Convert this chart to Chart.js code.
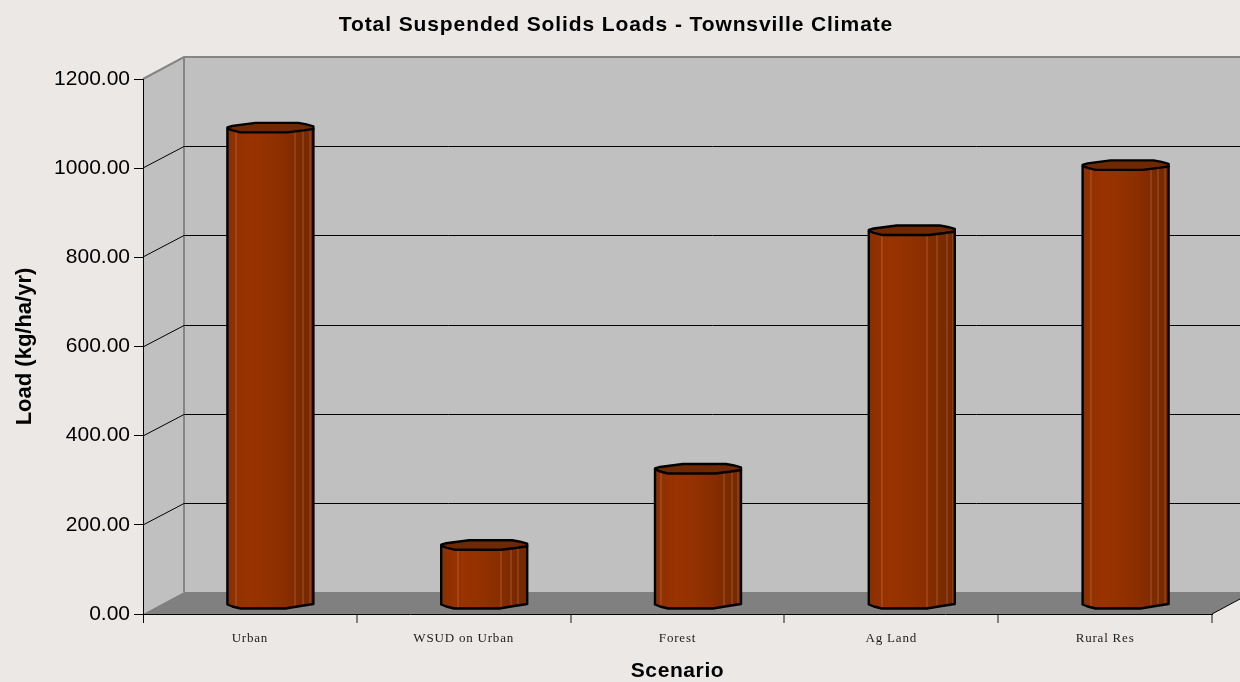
<!DOCTYPE html>
<html>
<head>
<meta charset="utf-8">
<script src="https://cdn.jsdelivr.net/npm/chart.js@4"></script>
<style>
html, body { margin: 0; padding: 0; background: #ece8e5; }
#wrap { width: 1240px; height: 682px; }
</style>
</head>
<body>
<div id="wrap"><canvas id="myChart"></canvas></div>
<script>
const categories = ['Urban', 'WSUD on Urban', 'Forest', 'Ag Land', 'Rural Res'];
const loads = [1069, 133, 304, 839, 985];
const chartTitle = 'Total Suspended Solids Loads - Townsville Climate';
const xTitle = 'Scenario';
const yTitle = 'Load (kg/ha/yr)';

// fake 3D look: back wall sits up and to the right of the axes
const DEPTH_X = 41;
const DEPTH_Y = 22;
const BAR_SHIFT_X = 20.5;
const BAR_SHIFT_Y = -10;

// rim outlines of the bars, relative to bar centre
const topBack = [[-43, 0], [-38, -1.5], [-15, -4.5], [28, -4.5], [36, -3], [43, -1]];
const topFront = [[43, 1.5], [33, 3], [17, 5], [-30, 5], [-38, 3], [-43, 1]];
const bottomFront = [[43, 0.5], [30, 2.5], [15, 5], [-30, 5], [-38, 3], [-43, 1]];
// thin light facet lines, one list per bar
const facetLines = [
    [-35, 24, 32, 39],
    [-27, 16.5, 26.5, 33],
    [-38, 25, 33, 39],
    [-30, 15, 25, 35, 41],
    [-35, 25, 32, 39]
];

function polyLine(ctx, cx, cy, pts, first) {
    pts.forEach((p, i) => {
        if (first && i === 0) ctx.moveTo(cx + p[0], cy + p[1]);
        else ctx.lineTo(cx + p[0], cy + p[1]);
    });
}

function withSpacing(obj, method, spacing) {
    const orig = obj[method];
    if (orig.spaced) return;
    const fn = function () {
        const ctx = this.ctx;
        ctx.letterSpacing = spacing;
        orig.apply(this, arguments);
        ctx.letterSpacing = '0px';
    };
    fn.spaced = true;
    obj[method] = fn;
}

const roomPlugin = {
    id: 'room',
    beforeDraw(chart) {
        const { ctx, scales: { x, y } } = chart;
        withSpacing(x, 'drawLabels', '0.8px');
        withSpacing(x, 'drawTitle', '0.6px');
        withSpacing(chart.titleBlock, 'draw', '0.9px');

        const l = x.left, r = x.right, t = y.top, b = y.bottom;
        ctx.save();
        ctx.fillStyle = '#ece8e5';
        ctx.fillRect(0, 0, chart.width, chart.height);

        // back wall and side wall
        ctx.fillStyle = '#c0c0c0';
        ctx.fillRect(l + DEPTH_X, t - DEPTH_Y, r - l, b - t);
        ctx.beginPath();
        ctx.moveTo(l, t);
        ctx.lineTo(l + DEPTH_X, t - DEPTH_Y);
        ctx.lineTo(l + DEPTH_X, b - DEPTH_Y);
        ctx.lineTo(l, b);
        ctx.closePath();
        ctx.fill();

        // floor
        ctx.fillStyle = '#808080';
        ctx.beginPath();
        ctx.moveTo(l, b);
        ctx.lineTo(l + DEPTH_X, b - DEPTH_Y);
        ctx.lineTo(r + DEPTH_X, b - DEPTH_Y);
        ctx.lineTo(r, b);
        ctx.closePath();
        ctx.fill();

        // wall edges
        ctx.strokeStyle = '#858585';
        ctx.lineWidth = 2;
        ctx.beginPath();
        ctx.moveTo(l, t);
        ctx.lineTo(l + DEPTH_X, t - DEPTH_Y);
        ctx.lineTo(r + DEPTH_X, t - DEPTH_Y);
        ctx.moveTo(l + DEPTH_X, t - DEPTH_Y);
        ctx.lineTo(l + DEPTH_X, b - DEPTH_Y);
        ctx.stroke();

        // gridlines bent along the side wall and back wall
        ctx.strokeStyle = '#000';
        ctx.lineWidth = 1;
        ctx.beginPath();
        y.ticks.forEach((tick) => {
            if (tick.value === y.min || tick.value === y.max) return;
            const py = Math.round(y.getPixelForValue(tick.value));
            ctx.moveTo(l, py);
            ctx.lineTo(l + DEPTH_X, py - DEPTH_Y + 0.5);
            ctx.lineTo(r + DEPTH_X, py - DEPTH_Y + 0.5);
        });
        // right end of the floor
        ctx.moveTo(r, b);
        ctx.lineTo(r + DEPTH_X, b - DEPTH_Y);
        ctx.stroke();
        ctx.restore();
    },
    beforeDatasetsDraw(chart) {
        chart.ctx.save();
        chart.ctx.translate(BAR_SHIFT_X, BAR_SHIFT_Y);
    },
    afterDatasetsDraw(chart) {
        const ctx = chart.ctx;
        chart.getDatasetMeta(0).data.forEach((bar, i) => {
            const cx = bar.x, top = bar.y, base = bar.base;

            // rounded bottom of the column
            ctx.fillStyle = bar.options.backgroundColor;
            ctx.beginPath();
            ctx.moveTo(cx - 43, base - 1);
            ctx.lineTo(cx + 43, base - 1);
            polyLine(ctx, cx, base, bottomFront, false);
            ctx.closePath();
            ctx.fill();

            // facet highlights
            ctx.strokeStyle = 'rgba(255,190,150,0.3)';
            ctx.lineWidth = 1;
            ctx.beginPath();
            facetLines[i].forEach((dx) => {
                ctx.moveTo(Math.round(cx + dx) + 0.5, top + 4);
                ctx.lineTo(Math.round(cx + dx) + 0.5, base + 4);
            });
            ctx.stroke();

            // top face
            ctx.fillStyle = '#6f2800';
            ctx.strokeStyle = '#000';
            ctx.lineWidth = 2.4;
            ctx.lineJoin = 'round';
            ctx.beginPath();
            polyLine(ctx, cx, top, topBack, true);
            polyLine(ctx, cx, top, topFront, false);
            ctx.closePath();
            ctx.fill();
            ctx.stroke();

            // silhouette sides and bottom
            ctx.beginPath();
            ctx.moveTo(cx - 43, top + 1);
            ctx.lineTo(cx - 43, base + 1);
            ctx.moveTo(cx + 43, top + 1);
            polyLine(ctx, cx, base, bottomFront, false);
            ctx.lineTo(cx - 43, base - 1);
            ctx.stroke();
        });
        ctx.restore();
    }
};

function barGradient(context) {
    const chart = context.chart;
    const xScale = chart.scales.x;
    const cx = xScale ? xScale.getPixelForValue(context.dataIndex) : NaN;
    // options get resolved once before the scale is laid out
    if (!Number.isFinite(cx)) return '#8f3000';
    const g = chart.ctx.createLinearGradient(cx - 43, 0, cx + 43, 0);
    g.addColorStop(0, '#8a2f00');
    g.addColorStop(0.12, '#933100');
    g.addColorStop(0.25, '#993300');
    g.addColorStop(0.45, '#933100');
    g.addColorStop(0.65, '#8a2e00');
    g.addColorStop(0.78, '#7f2b00');
    g.addColorStop(1, '#732800');
    return g;
}

const myChart = new Chart(document.getElementById('myChart'), {
    type: 'bar',
    data: {
        labels: categories,
        datasets: [{
            label: yTitle,
            data: loads,
            backgroundColor: barGradient,
            borderWidth: 0,
            barPercentage: 0.402,
            categoryPercentage: 1,
            clip: false
        }]
    },
    plugins: [roomPlugin],
    options: {
        responsive: true,
        maintainAspectRatio: false,
        animation: false,
        layout: { padding: { left: 20, right: 28, top: 0, bottom: 0 } },
        plugins: {
            legend: { display: false },
            tooltip: { enabled: false },
            title: {
                display: true,
                text: chartTitle,
                color: '#000',
                font: { family: '"Liberation Sans"', size: 21, weight: 'bold', lineHeight: 1.2 },
                padding: { top: 13, bottom: 40.8 }
            }
        },
        scales: {
            x: {
                afterFit(scale) { scale.height = 68; },
                grid: {
                    offset: true,
                    drawOnChartArea: false,
                    tickLength: 9,
                    color: (c) => (c.index === 0 ? '#000' : '#808080'),
                    lineWidth: (c) => (c.index === 0 ? 1 : 2)
                },
                border: { color: '#000', width: 1 },
                ticks: {
                    padding: 8,
                    maxRotation: 0,
                    color: '#222',
                    font: { family: '"Liberation Serif"', size: 13 }
                },
                title: {
                    display: true,
                    text: xTitle,
                    color: '#000',
                    font: { family: '"Liberation Sans"', size: 21, weight: 'bold' },
                    padding: { top: 0, bottom: -1.7 }
                }
            },
            y: {
                min: 0,
                max: 1200,
                afterFit(scale) { scale.width = 123; },
                grid: { drawOnChartArea: false, tickLength: 9, color: '#000' },
                border: { color: '#000', width: 1 },
                ticks: {
                    stepSize: 200,
                    padding: 4,
                    color: '#000',
                    font: { family: '"Liberation Sans"', size: 21 },
                    callback: (v) => v.toFixed(2)
                },
                title: {
                    display: true,
                    text: yTitle,
                    color: '#000',
                    font: { family: '"Liberation Sans"', size: 22, weight: 'bold' },
                    padding: { top: -8, bottom: 0 }
                }
            }
        }
    }
});
</script>
</body>
</html>
